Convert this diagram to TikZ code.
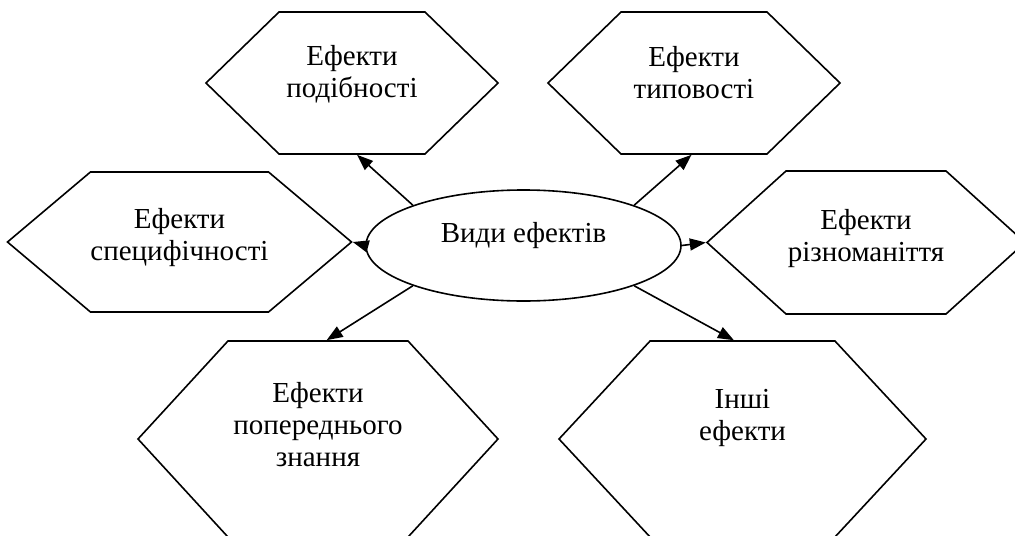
\documentclass[tikz,border=0pt]{standalone}
\usepackage{fontspec}
\setmainfont{Liberation Serif}
\usetikzlibrary{shapes.symbols,shapes.geometric}
\usetikzlibrary{arrows.meta}
\tikzset{>={Triangle[length=8pt,width=6pt]}}
\tikzset{hexa/.style = {shape=signal,signal to=east and west,draw,align=center,inner sep=0pt}}
\tikzset{oval/.style = {shape=ellipse,draw,inner sep=0pt,minimum width=157.5pt,minimum height=55.5pt}}

\begin{document}
\begin{tikzpicture}[x=0.5pt,y=-0.5pt,line width=0.8pt,font=\fontsize{14.5}{16}\selectfont]
                \useasboundingbox (0,0) rectangle (1015,535);

                \node[oval,text depth=13pt] (vid) at (523.5,245.5) {Види ефектів};

                \node[hexa,minimum width=146pt,minimum height=71pt,signal pointer angle=88.4,text depth=12pt] (podib) at (352,83) {Ефекти\\подібності};
                \node[hexa,minimum width=146pt,minimum height=71pt,signal pointer angle=88.4,text depth=11pt] (typov) at (694,83) {Ефекти\\типовості};
                \node[hexa,minimum width=167.5pt,minimum height=70pt,signal pointer angle=80.3,text depth=7.5pt] (specyf) at (179.5,242) {Ефекти\\специфічності};
                \node[hexa,minimum width=159pt,minimum height=71.5pt,signal pointer angle=84.3,text depth=7.5pt] (rizn) at (866,242.5) {Ефекти\\різноманіття};
                \node[hexa,minimum width=180pt,minimum height=98pt,signal pointer angle=94.9,text depth=15pt] (poper) at (318,439) {Ефекти\\попереднього\\знання};
                \node[hexa,minimum width=183.5pt,minimum height=98pt,signal pointer angle=94.2,text depth=24pt] (inshi) at (742.5,439) {Інші\\ефекти};

                \draw[->] (vid.160) -- (podib.274);
                \draw[->] (vid.20) -- (typov.268);
                \draw[->] (vid.west) -- (specyf.east);
                \draw[->] (vid.east) -- (rizn.west);
                \draw[->] (vid.200) -- (poper.85);
                \draw[->] (vid.340) -- (inshi.95.5);
            \end{tikzpicture}
\end{document}
